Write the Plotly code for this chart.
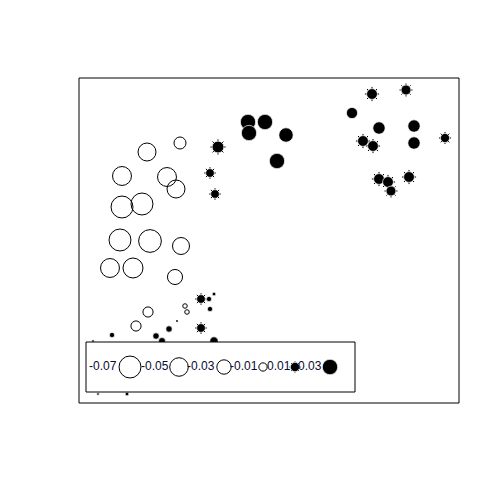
import plotly.graph_objects as go

# bubble data: x, y (plot coordinates), value
xs = [372, 406, 352, 379, 414, 363, 373, 414, 445, 379, 388, 391, 409,
      248, 265, 249, 286, 218, 277, 210, 215,
      180, 147, 122, 167, 176, 122, 142, 120, 150, 181, 110, 133, 175,
      148, 136, 185, 187, 201, 209, 214, 210, 177, 112, 169, 201, 156, 162, 214,
      93, 98, 127]
ys = [406, 410, 387, 372, 374, 359, 354, 357, 362, 321, 318, 309, 323,
      378, 378, 367, 365, 353, 339, 327, 306,
      357, 348, 324, 323, 311, 293, 296, 260, 259, 254, 232, 232, 223,
      188, 174, 194, 188, 201, 201, 206, 191, 179, 165, 171, 172, 164, 159, 159,
      159, 106, 106]
vals = [0.017, 0.014, 0.018, 0.022, 0.022, 0.017, 0.017, 0.022, 0.012, 0.017, 0.017, 0.014, 0.017,
        0.034, 0.034, 0.034, 0.030, 0.020, 0.034, 0.011, 0.011,
        -0.021, -0.047, -0.052, -0.052, -0.047, -0.070, -0.070, -0.070, -0.075, -0.042, -0.052, -0.058, -0.033,
        -0.015, -0.015, -0.003, -0.003, 0.011, 0.004, 0.002, 0.004, -0.0002, 0.004, 0.006, 0.011, 0.006, 0.007, 0.010,
        0.001, 0.001, 0.002]
starburst = [1, 1, 0, 0, 0, 1, 1, 0, 1, 1, 1, 1, 1,
             0, 0, 0, 0, 1, 0, 1, 1,
             0, 0, 0, 0, 0, 0, 0, 0, 0, 0, 0, 0, 0,
             0, 0, 0, 0, 1, 0, 0, 0, 0, 0, 0, 1, 0, 0, 0,
             0, 0, 0]

leg_labels = ["-0.07", "-0.05", "-0.03", "-0.01", "0.01", "0.03"]
leg_vals = [-0.07, -0.05, -0.03, -0.01, 0.01, 0.03]
leg_sym_x = [130, 179, 224, 263, 295, 330]
leg_txt_x = [89, 141, 187, 230, 267, 298]

K = 83.0


def dia(v):
    return max(K * abs(v) ** 0.5, 1)


neg_i = [i for i, v in enumerate(vals) if v < 0]
pos_i = [i for i, v in enumerate(vals) if v >= 0]
sb_i = [i for i in pos_i if starburst[i]]

fig = go.Figure()
fig.add_trace(go.Scatter(
    x=[xs[i] for i in neg_i], y=[ys[i] for i in neg_i], mode="markers",
    marker=dict(symbol="circle-open", size=[dia(vals[i]) for i in neg_i], opacity=1,
                color="black", line=dict(width=1, color="black")),
    hoverinfo="skip", showlegend=False))
fig.add_trace(go.Scatter(
    x=[xs[i] for i in sb_i], y=[ys[i] for i in sb_i], mode="markers",
    marker=dict(symbol="asterisk-open", size=[dia(vals[i]) + 1 for i in sb_i], opacity=1,
                color="black", line=dict(width=1, color="black")),
    hoverinfo="skip", showlegend=False))
fig.add_trace(go.Scatter(
    x=[xs[i] for i in pos_i], y=[ys[i] for i in pos_i], mode="markers",
    marker=dict(symbol="circle", size=[dia(vals[i]) for i in pos_i], opacity=1,
                color="black", line=dict(width=0.7, color="white")),
    hoverinfo="skip", showlegend=False))

# legend box (pixel-space overlay axis), drawn above the data
fig.add_trace(go.Scatter(
    x=[86, 355, 355, 86, 86], y=[342, 342, 392, 392, 342], xaxis="x2", yaxis="y2",
    mode="lines", fill="toself", fillcolor="white",
    line=dict(color="black", width=1), hoverinfo="skip", showlegend=False))

lneg = [i for i, v in enumerate(leg_vals) if v < 0]
lpos = [i for i, v in enumerate(leg_vals) if v >= 0]
fig.add_trace(go.Scatter(
    x=[leg_sym_x[i] for i in lneg], y=[367] * len(lneg), xaxis="x2", yaxis="y2",
    mode="markers",
    marker=dict(symbol="circle", size=[dia(leg_vals[i]) for i in lneg], opacity=1,
                color="white", line=dict(width=1, color="black")),
    hoverinfo="skip", showlegend=False))
fig.add_trace(go.Scatter(
    x=[leg_sym_x[lpos[0]]], y=[367], xaxis="x2", yaxis="y2", mode="markers",
    marker=dict(symbol="asterisk-open", size=dia(leg_vals[lpos[0]]) + 1, opacity=1,
                color="black", line=dict(width=1, color="black")),
    hoverinfo="skip", showlegend=False))
fig.add_trace(go.Scatter(
    x=[leg_sym_x[i] for i in lpos], y=[367] * len(lpos), xaxis="x2", yaxis="y2",
    mode="markers",
    marker=dict(symbol="circle", size=[dia(leg_vals[i]) + 1 for i in lpos], opacity=1,
                color="black", line=dict(width=0.7, color="white")),
    hoverinfo="skip", showlegend=False))
fig.add_trace(go.Scatter(
    x=leg_txt_x, y=[367] * len(leg_txt_x), xaxis="x2", yaxis="y2",
    mode="text", text=leg_labels, textposition="middle right",
    textfont=dict(family="Liberation Sans, Arial", size=12, color="#0a0a30"),
    hoverinfo="skip", showlegend=False))

fig.add_shape(type="rect", xref="paper", yref="paper", x0=0, x1=1, y0=0, y1=1,
              line=dict(color="black", width=1))

fig.update_layout(
    width=500, height=500,
    margin=dict(l=71, r=49, t=70, b=105),
    paper_bgcolor="white", plot_bgcolor="white",
    xaxis=dict(range=[79, 459], visible=False, fixedrange=True),
    yaxis=dict(range=[97, 422], visible=False, fixedrange=True),
    xaxis2=dict(range=[79, 459], visible=False, overlaying="x", anchor="y2"),
    yaxis2=dict(range=[403, 78], visible=False, overlaying="y", anchor="x2"),
    showlegend=False,
)

fig.write_html("out.html")
